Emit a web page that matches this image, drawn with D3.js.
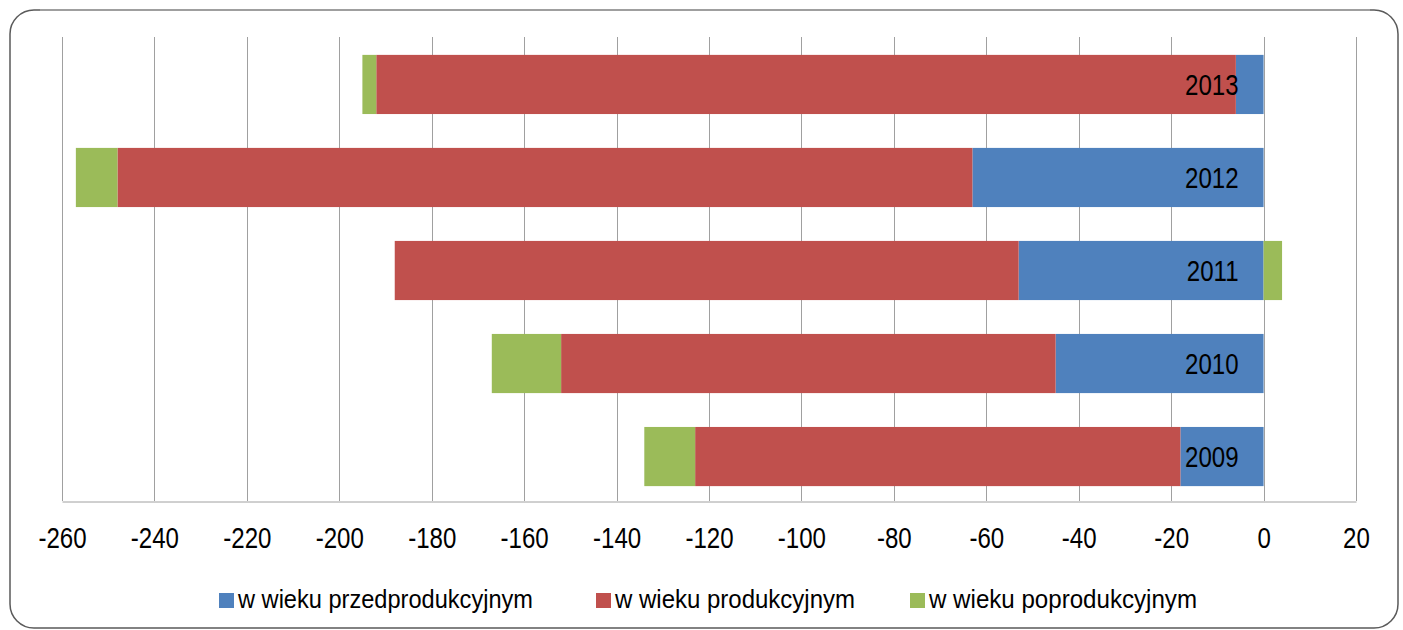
<!DOCTYPE html>
<html><head><meta charset="utf-8">
<script src="https://cdn.jsdelivr.net/npm/d3@7"></script>
<style>body{margin:0;background:#fff}svg{display:block}</style>
</head><body>
<svg id="c" width="1403" height="630"></svg>
<script>
const years = ["2013","2012","2011","2010","2009"];
const przed = [-6, -63, -53, -45, -18];
const prod = [-186, -185, -135, -107, -105];
const popr = [-3, -9, 4, -15, -11];
const ticks = [-260,-240,-220,-200,-180,-160,-140,-120,-100,-80,-60,-40,-20,0,20];
const seriesNames = ["w wieku przedprodukcyjnym","w wieku produkcyjnym","w wieku poprodukcyjnym"];
const colors = ["#4F81BD","#C0504D","#9BBB59"];
const FONT = "'Liberation Sans Narrow','Arial Narrow','Liberation Sans',Arial,sans-serif";
const SX = 0.83;

const svg = d3.select("#c");
// frame
svg.append("rect").attr("x",10).attr("y",10).attr("width",1388).attr("height",618).attr("rx",24)
  .attr("fill","#fff").attr("stroke","#5a5a5a").attr("stroke-width",1.5);
svg.append("line").attr("x1",40).attr("x2",1370).attr("y1",10).attr("y2",10)
  .attr("stroke","#a8a8a8").attr("stroke-width",1.6);

const x = d3.scaleLinear().domain([-260,20]).range([62,1356]);
const y = d3.scaleBand().domain(years).range([40,501]).paddingInner(0.364).paddingOuter(0.16);

// grid
svg.append("g").selectAll("line").data(ticks).join("line")
  .attr("x1",d=>Math.round(x(d))+0.5).attr("x2",d=>Math.round(x(d))+0.5).attr("y1",37).attr("y2",501)
  .attr("stroke","#a0a0a0").attr("stroke-width",1);

// stacks
const rows = years.map((yr,i)=>({yr, vals:[przed[i],prod[i],popr[i]]}));
rows.forEach(r=>{
  let neg=0,pos=0;
  r.vals.forEach((v,k)=>{
    let a,b;
    if(v<0){a=neg+v;b=neg;neg+=v;} else {a=pos;b=pos+v;pos+=v;}
    svg.append("rect").attr("x",x(a)).attr("width",x(b)-x(a))
      .attr("y",y(r.yr)).attr("height",y.bandwidth()).attr("fill",colors[k]);
  });
});

// axis
const ax = svg.append("g").attr("transform","translate(0,501.5)")
  .call(d3.axisBottom(x).tickValues(ticks).tickSize(0).tickFormat(d=>String(d)));
ax.select(".domain").attr("stroke","#a0a0a0");
ax.selectAll(".tick text").attr("y",0).attr("dy",0)
  .attr("transform",`translate(0,46) scale(${SX},1)`)
  .attr("font-family",FONT).attr("font-size",29).attr("fill","#000");

// year labels
svg.append("g").selectAll("text").data(years).join("text")
  .attr("transform",d=>`translate(${x(0)-25},${y(d)+y.bandwidth()/2+10.5}) scale(${SX},1)`)
  .attr("text-anchor","end").attr("font-family",FONT).attr("font-size",29).attr("fill","#000").text(d=>d);

// legend
const legX = [219,596,910];
const legW = [295,240,268];
const lg = svg.append("g");
seriesNames.forEach((n,i)=>{
  lg.append("rect").attr("x",legX[i]).attr("y",593).attr("width",15).attr("height",15).attr("fill",colors[i]);
  lg.append("text").attr("x",legX[i]+19).attr("y",608).attr("font-family",FONT)
    .attr("font-size",26).attr("fill","#000")
    .attr("textLength",legW[i]).attr("lengthAdjust","spacingAndGlyphs").text(n);
});
</script>
</body></html>
